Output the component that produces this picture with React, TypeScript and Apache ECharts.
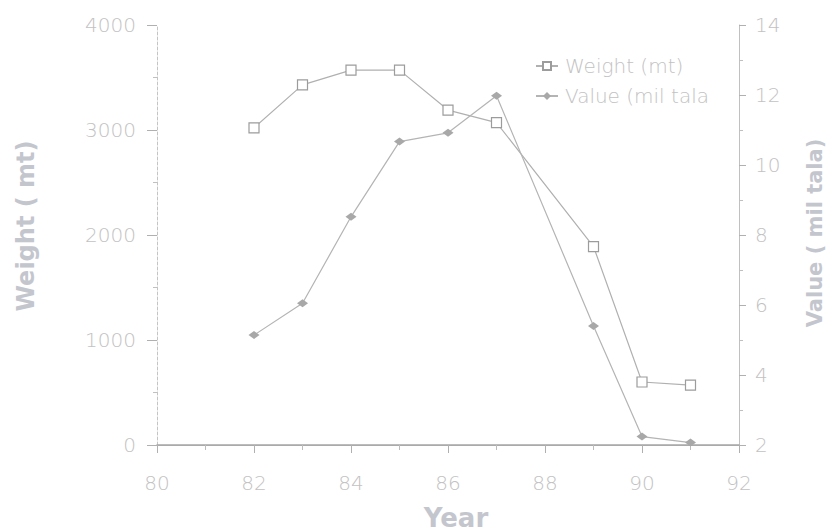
import React, { useEffect, useRef } from "react";
import * as echarts from "echarts";

const years = [82, 83, 84, 85, 86, 87, 89, 90, 91];
const weightMt = [3020, 3430, 3570, 3570, 3190, 3070, 1890, 600, 570];
const valueMilTala = [5.14, 6.05, 8.52, 10.67, 10.92, 11.98, 5.4, 2.24, 2.07];
const seriesNames = ["Weight (mt)", "Value (mil tala)"];
const legendLabels = ["Weight (mt)", "Value (mil tala"];
const xTitle = "Year";
const leftTitle = "Weight ( mt)";
const rightTitle = "Value ( mil tala)";

const LABEL = "#c2c2c2";
const TITLE = "#c4c6ce";
const FONT = "DejaVu Sans";

export default function App() {
  const ref = useRef<HTMLDivElement>(null);
  useEffect(() => {
    if (!ref.current) return;
    const chart = echarts.init(ref.current, null, { renderer: "svg" });
    const weightData = years.map((y, i) => [y, weightMt[i]]);
    const valueData = years.map((y, i) => [y, valueMilTala[i]]);
    const plain = (v: number) => String(v);
    chart.setOption({
      animation: false,
      backgroundColor: "#ffffff",
      grid: { left: 157, right: 91, top: 25, bottom: 87, containLabel: false },
      legend: {
        orient: "vertical",
        left: 530,
        top: 51,
        itemWidth: 22,
        itemHeight: 10,
        itemGap: 10,
        data: seriesNames,
        formatter: (n: string) => legendLabels[seriesNames.indexOf(n)],
        textStyle: { color: LABEL, fontFamily: FONT, fontSize: 20, fontWeight: 200, padding: [0, 0, 0, 2] },
      },
      xAxis: [
        {
          type: "value",
          min: 80,
          max: 92,
          interval: 2,
          axisLine: { show: true, onZero: false, lineStyle: { color: "#a6a6a6", width: 1.5 } },
          axisTick: { show: true, length: 8, lineStyle: { color: "#b0b0b0" } },
          minorTick: { show: true, splitNumber: 2, length: 5, lineStyle: { color: "#bcbcbc" } },
          axisLabel: { color: LABEL, fontFamily: FONT, fontSize: 20, fontWeight: 200, margin: 28, formatter: plain },
          splitLine: { show: false },
        },
        {
          type: "value",
          position: "top",
          min: 80,
          max: 92,
          axisLine: { show: true, lineStyle: { color: "#aaaaaa", width: 1.2 } },
          axisTick: { show: false },
          axisLabel: { show: false },
          splitLine: { show: false },
        },
      ],
      yAxis: [
        {
          type: "value",
          position: "left",
          min: 0,
          max: 4000,
          interval: 1000,
          axisLine: { show: true, onZero: false, lineStyle: { color: "#c4c4c4", type: [3, 2] } },
          axisTick: { show: true, length: 10, lineStyle: { color: "#b0b0b0" } },
          minorTick: { show: true, splitNumber: 2, length: 4, lineStyle: { color: "#c0c0c0" } },
          axisLabel: { color: LABEL, fontFamily: FONT, fontSize: 20, fontWeight: 200, margin: 21, formatter: plain },
          splitLine: { show: false },
        },
        {
          type: "value",
          position: "right",
          min: 2,
          max: 14,
          interval: 2,
          axisLine: { show: true, onZero: false, lineStyle: { color: "#c0c0c0" } },
          axisTick: { show: true, length: 7, lineStyle: { color: "#b0b0b0" } },
          minorTick: { show: true, splitNumber: 2, length: 4, lineStyle: { color: "#c0c0c0" } },
          axisLabel: { color: LABEL, fontFamily: FONT, fontSize: 20, fontWeight: 200, margin: 16, formatter: plain },
          splitLine: { show: false },
        },
      ],
      series: [
        {
          name: seriesNames[0],
          type: "line",
          xAxisIndex: 0,
          yAxisIndex: 0,
          data: weightData,
          symbol: "rect",
          symbolSize: 10,
          itemStyle: { color: "#ffffff", borderColor: "#9c9c9c", borderWidth: 1.2 },
          lineStyle: { color: "#b0b0b0", width: 1.2 },
        },
        {
          name: seriesNames[1],
          type: "line",
          xAxisIndex: 0,
          yAxisIndex: 1,
          data: valueData,
          symbol: "diamond",
          symbolSize: [11, 8],
          itemStyle: { color: "#a8a8a8" },
          lineStyle: { color: "#b4b4b4", width: 1.2 },
        },
      ],
      graphic: [
        {
          type: "text",
          x: 26,
          y: 226,
          rotation: Math.PI / 2,
          style: { text: leftTitle, fill: TITLE, font: `bold 24px ${FONT}`, textAlign: "center", textVerticalAlign: "middle" },
        },
        {
          type: "text",
          x: 815,
          y: 233,
          rotation: Math.PI / 2,
          style: { text: rightTitle, fill: TITLE, font: `bold 21px ${FONT}`, textAlign: "center", textVerticalAlign: "middle" },
        },
        {
          type: "text",
          x: 456,
          y: 518,
          style: { text: xTitle, fill: TITLE, font: `bold 26px ${FONT}`, textAlign: "center", textVerticalAlign: "middle" },
        },
      ],
    });
    return () => chart.dispose();
  }, []);
  return <div ref={ref} style={{ position: "fixed", left: 0, top: 0, width: 830, height: 532 }} />;
}
